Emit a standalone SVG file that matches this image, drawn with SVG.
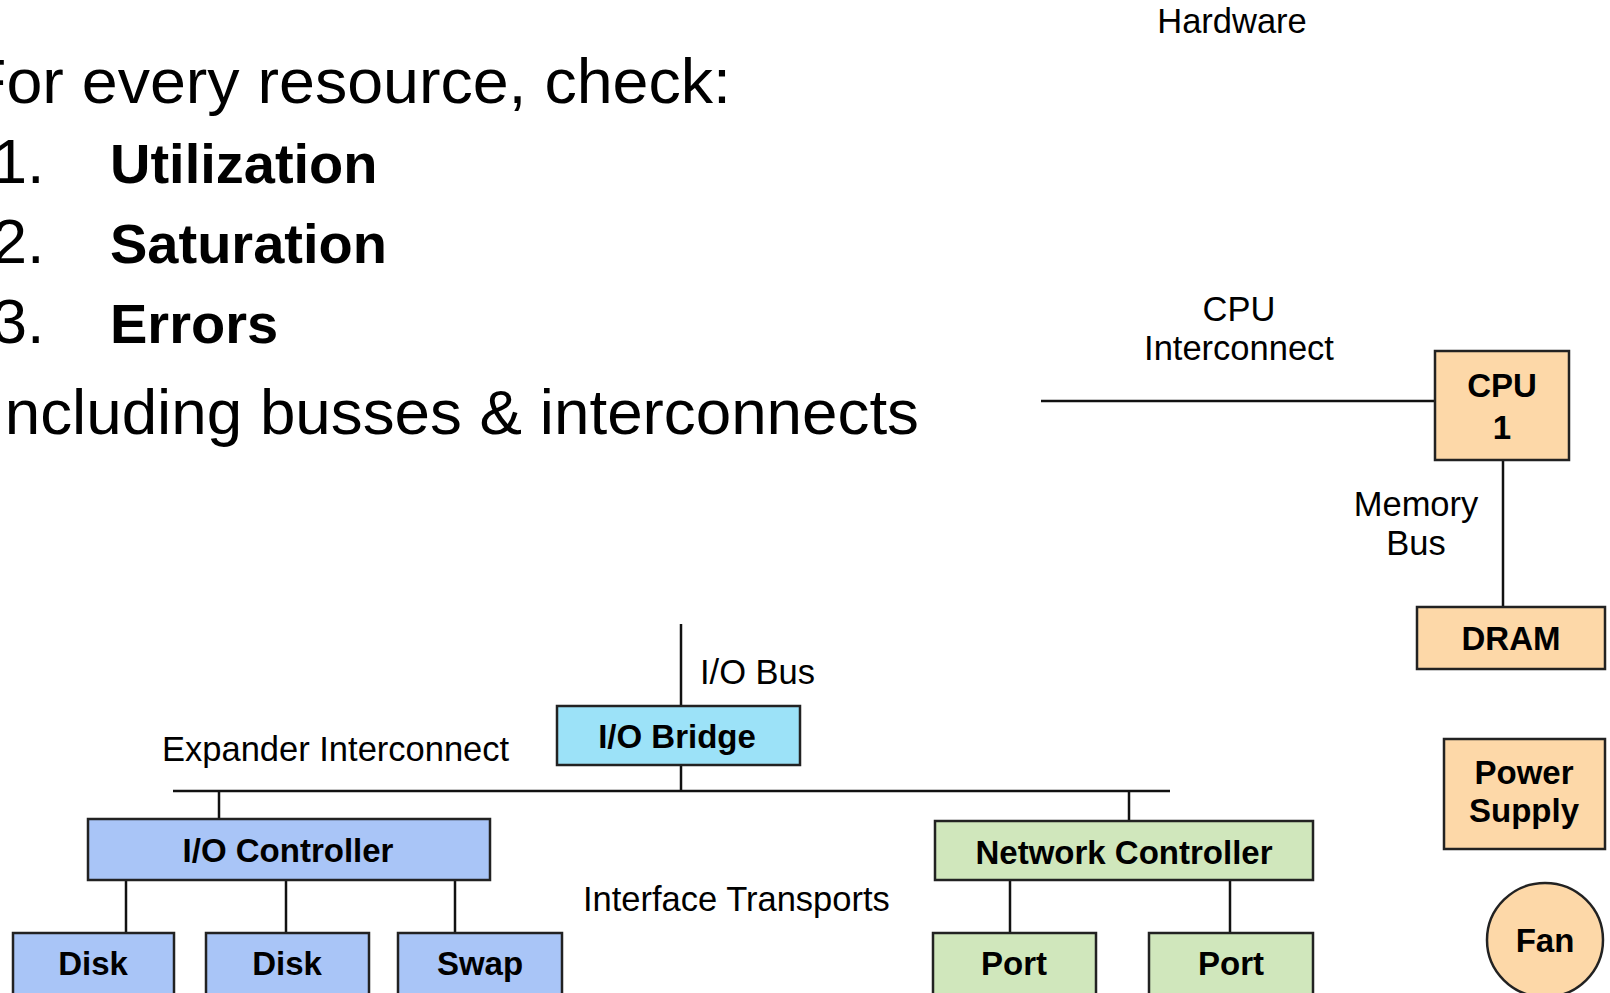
<svg xmlns="http://www.w3.org/2000/svg" width="1610" height="993" viewBox="0 0 1610 993">
<style>
text{font-family:"Liberation Sans",Arial,sans-serif;fill:#000}
.big{font-size:63px}
.bold{font-size:56px;font-weight:bold}
.lbl{font-size:34.5px}
.nt{font-size:33px;font-weight:bold;text-anchor:middle}
.box{stroke:#222;stroke-width:2.5}
.or{fill:#FDD8A8}.bl{fill:#A9C5F7}.cy{fill:#9CE2F8}.gr{fill:#D0E7BC}
.con line{stroke:#111;stroke-width:2.5}
</style>
<g id="bullets">
<text class="big" x="-33" y="103" textLength="764" lengthAdjust="spacingAndGlyphs">For every resource, check:</text>
<text class="big" x="-8" y="183">1.</text><text class="bold" x="110" y="183">Utilization</text>
<text class="big" x="-8" y="263">2.</text><text class="bold" x="110" y="263">Saturation</text>
<text class="big" x="-8" y="343">3.</text><text class="bold" x="110" y="343">Errors</text>
<text class="big" x="-13" y="434" textLength="932" lengthAdjust="spacingAndGlyphs">Including busses &amp; interconnects</text>
</g>
<g id="labels">
<text class="lbl" x="1232" y="33" text-anchor="middle">Hardware</text>
<text class="lbl" x="1239" y="321" text-anchor="middle">CPU</text>
<text class="lbl" x="1239" y="360" text-anchor="middle">Interconnect</text>
<text class="lbl" x="1416" y="516" text-anchor="middle">Memory</text>
<text class="lbl" x="1416" y="555" text-anchor="middle">Bus</text>
<text class="lbl" x="700" y="684">I/O Bus</text>
<text class="lbl" x="162" y="761">Expander Interconnect</text>
<text class="lbl" x="583" y="911">Interface Transports</text>
</g>
<g class="con" id="connectors">
<line x1="1041" y1="401" x2="1435" y2="401"/>
<line x1="1503" y1="460" x2="1503" y2="607"/>
<line x1="681" y1="624" x2="681" y2="706"/>
<line x1="681" y1="765" x2="681" y2="791"/>
<line x1="173" y1="791" x2="1170" y2="791"/>
<line x1="219" y1="791" x2="219" y2="819"/>
<line x1="1129" y1="791" x2="1129" y2="821"/>
<line x1="126" y1="880" x2="126" y2="933"/>
<line x1="286" y1="880" x2="286" y2="933"/>
<line x1="455" y1="880" x2="455" y2="933"/>
<line x1="1010" y1="880" x2="1010" y2="933"/>
<line x1="1230" y1="880" x2="1230" y2="933"/>
</g>
<g id="cpu"><rect class="box or" x="1435" y="351" width="134" height="109"/><text class="nt" x="1502" y="397">CPU</text><text class="nt" x="1502" y="439">1</text></g>
<g id="dram"><rect class="box or" x="1417" y="607" width="188" height="62"/><text class="nt" x="1511" y="650">DRAM</text></g>
<g id="power"><rect class="box or" x="1444" y="739" width="161" height="110"/><text class="nt" x="1524" y="784">Power</text><text class="nt" x="1524" y="822">Supply</text></g>
<g id="fan"><ellipse class="box or" cx="1545" cy="940" rx="58" ry="57"/><text class="nt" x="1545" y="952">Fan</text></g>
<g id="iobridge"><rect class="box cy" x="557" y="706" width="243" height="59"/><text class="nt" x="677" y="748">I/O Bridge</text></g>
<g id="iocontroller"><rect class="box bl" x="88" y="819" width="402" height="61"/><text class="nt" x="288" y="862">I/O Controller</text></g>
<g id="disk1"><rect class="box bl" x="13" y="933" width="161" height="62"/><text class="nt" x="93" y="975">Disk</text></g>
<g id="disk2"><rect class="box bl" x="206" y="933" width="163" height="62"/><text class="nt" x="287" y="975">Disk</text></g>
<g id="swap"><rect class="box bl" x="398" y="933" width="164" height="62"/><text class="nt" x="480" y="975">Swap</text></g>
<g id="netctl"><rect class="box gr" x="935" y="821" width="378" height="59"/><text class="nt" x="1124" y="864">Network Controller</text></g>
<g id="port1"><rect class="box gr" x="933" y="933" width="163" height="62"/><text class="nt" x="1014" y="975">Port</text></g>
<g id="port2"><rect class="box gr" x="1149" y="933" width="164" height="62"/><text class="nt" x="1231" y="975">Port</text></g>
</svg>
